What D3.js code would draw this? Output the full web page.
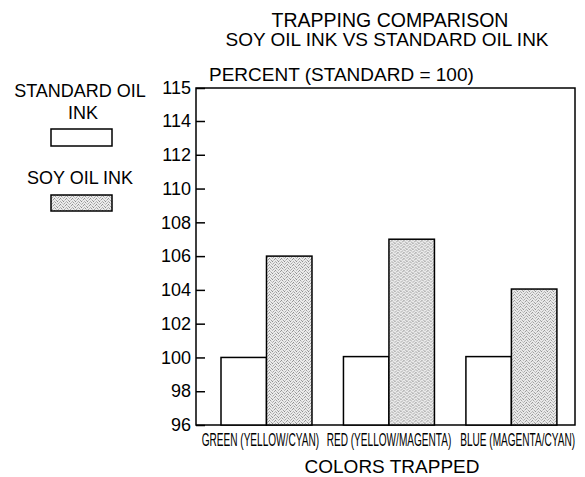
<!DOCTYPE html>
<html>
<head>
<meta charset="utf-8">
<script src="https://cdn.jsdelivr.net/npm/d3@7"></script>
<style>
  body { margin: 0; background: #fff; }
  text { font-family: "Liberation Sans", Arial, Helvetica, sans-serif; fill: #000; }
</style>
</head>
<body>
<div id="chart"></div>
<script>
// Trapping comparison - soy oil ink vs standard oil ink

const categories = ['GREEN (YELLOW/CYAN)', 'RED (YELLOW/MAGENTA)', 'BLUE (MAGENTA/CYAN)'];
const seriesKeys = ['standard', 'soy'];
const seriesNames = ['STANDARD OIL INK', 'SOY OIL INK'];
const standardValues = [100, 100.05, 100.05];
const soyValues = [106, 107, 104.05];
const yTicks = [96, 98, 100, 102, 104, 106, 108, 110, 112, 114, 115];

const data = categories.map((c, i) => ({
    category: c,
    standard: standardValues[i],
    soy: soyValues[i]
}));

const width = 585, height = 477;
const plot = { left: 196, right: 575, top: 88, bottom: 425 };

const svg = d3.select('#chart')
    .append('svg')
    .attr('width', width)
    .attr('height', height);

// stipple fill used for soy bars
const defs = svg.append('defs');
const pat = defs.append('pattern')
    .attr('id', 'stipple')
    .attr('patternUnits', 'userSpaceOnUse')
    .attr('width', 6)
    .attr('height', 6);
pat.append('rect').attr('width', 6).attr('height', 6).attr('fill', '#ebebeb');
const dots = [
    [0, 0, '#8e8e8e'], [3, 0, '#b9b9b9'], [5, 1, '#9a9a9a'], [1, 1, '#c4c4c4'],
    [2, 2, '#a0a0a0'], [4, 2, '#c8c8c8'], [0, 3, '#b2b2b2'], [3, 3, '#8a8a8a'],
    [5, 4, '#bcbcbc'], [1, 4, '#9c9c9c'], [4, 5, '#a6a6a6'], [2, 5, '#c6c6c6']
];
dots.forEach(p => pat.append('rect')
    .attr('x', p[0]).attr('y', p[1]).attr('width', 1).attr('height', 1)
    .attr('fill', p[2]));

const fills = { standard: '#fff', soy: 'url(#stipple)' };

// the top of the scale is compressed in the original, hence the piecewise domain
const y = d3.scaleLinear()
    .domain([96, 114, 115])
    .range([plot.bottom, 121, plot.top]);

const x0 = d3.scaleBand()
    .domain(categories)
    .range([plot.left, plot.right])
    .paddingInner(0.257)
    .paddingOuter(0.176)
    .align(0.58);

const x1 = d3.scaleBand()
    .domain(seriesKeys)
    .range([0, x0.bandwidth()]);

// labels are spread a little wider than the bar groups
const xLabel = d3.scaleBand()
    .domain(categories)
    .range([plot.left, plot.right + 7]);

// frame
svg.append('rect')
    .attr('x', plot.left)
    .attr('y', plot.top)
    .attr('width', plot.right - plot.left)
    .attr('height', plot.bottom - plot.top)
    .attr('fill', 'none')
    .attr('stroke', '#000')
    .attr('stroke-width', 1.5);

// bars
const groups = svg.selectAll('.group')
    .data(data)
    .enter()
    .append('g')
    .attr('class', 'group')
    .attr('transform', d => `translate(${x0(d.category)},0)`);

groups.selectAll('rect')
    .data(d => seriesKeys.map(k => ({ key: k, value: d[k] })))
    .enter()
    .append('rect')
    .attr('x', d => x1(d.key))
    .attr('y', d => y(d.value))
    .attr('width', x1.bandwidth())
    .attr('height', d => plot.bottom - y(d.value))
    .attr('fill', d => fills[d.key])
    .attr('stroke', '#000')
    .attr('stroke-width', 1.5);

// y axis, ticks pointing inward
const yAxis = svg.append('g')
    .attr('transform', `translate(${plot.left},0)`)
    .call(d3.axisLeft(y).tickValues(yTicks).tickSize(-9).tickPadding(5).tickFormat(d3.format('d')));
yAxis.select('.domain').remove();
yAxis.selectAll('line').attr('stroke', '#000').attr('stroke-width', 1.5);
yAxis.selectAll('text')
    .style('font-size', '18px')
    .attr('fill', '#000');

// x axis labels (condensed type, squeezed horizontally)
const xAxis = svg.append('g')
    .attr('transform', `translate(0,${plot.bottom})`)
    .call(d3.axisBottom(xLabel).tickSize(0).tickPadding(8));
xAxis.select('.domain').remove();
xAxis.selectAll('text')
    .style('font-size', '18px')
    .attr('dy', '0.71em')
    .attr('fill', '#000')
    .attr('transform', 'scale(0.56,1)');

// titles
svg.append('text')
    .attr('x', 390).attr('y', 27)
    .attr('text-anchor', 'middle')
    .style('font-size', '19.5px')
    .text('TRAPPING COMPARISON');
svg.append('text')
    .attr('x', 387).attr('y', 46)
    .attr('text-anchor', 'middle')
    .style('font-size', '19px')
    .text('SOY OIL INK VS STANDARD OIL INK');
svg.append('text')
    .attr('x', 209).attr('y', 81)
    .style('font-size', '19px')
    .text('PERCENT (STANDARD = 100)');
svg.append('text')
    .attr('x', 392).attr('y', 473)
    .attr('text-anchor', 'middle')
    .style('font-size', '19px')
    .text('COLORS TRAPPED');

// legend
const legend = svg.append('g');
legend.append('text')
    .attr('x', 80).attr('y', 97)
    .attr('text-anchor', 'middle')
    .style('font-size', '18px')
    .text('STANDARD OIL');
legend.append('text')
    .attr('x', 83).attr('y', 119)
    .attr('text-anchor', 'middle')
    .style('font-size', '18px')
    .text('INK');
legend.append('rect')
    .attr('x', 51).attr('y', 129).attr('width', 61).attr('height', 17)
    .attr('fill', fills.standard).attr('stroke', '#000').attr('stroke-width', 1.5);
legend.append('text')
    .attr('x', 80).attr('y', 184)
    .attr('text-anchor', 'middle')
    .style('font-size', '18px')
    .text(seriesNames[1]);
legend.append('rect')
    .attr('x', 51).attr('y', 195).attr('width', 61).attr('height', 16)
    .attr('fill', fills.soy).attr('stroke', '#000').attr('stroke-width', 1.5);
</script>
</body>
</html>
